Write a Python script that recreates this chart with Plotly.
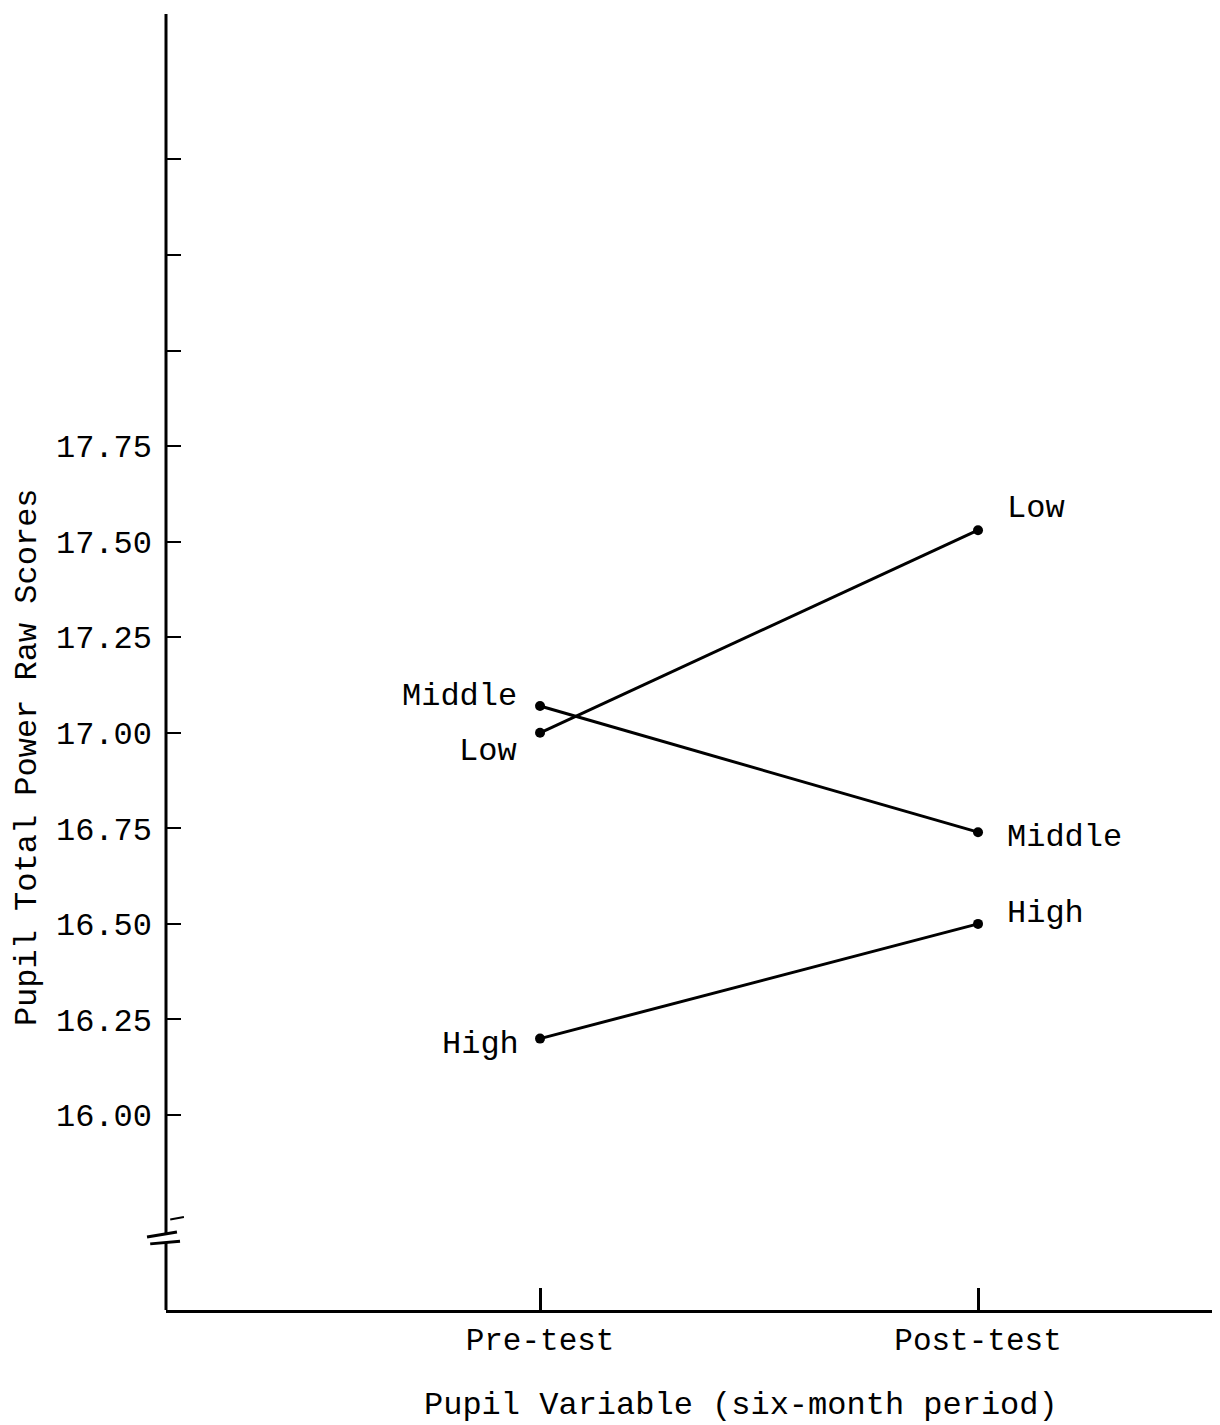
import plotly.graph_objects as go

# ---- data ----
phases = ["Pre-test", "Post-test"]
phase_pos = [1, 2]
low_scores = [17.00, 17.53]
middle_scores = [17.07, 16.74]
high_scores = [16.20, 16.50]
group_names = ["Low", "Middle", "High"]
ytick_vals = [16.00, 16.25, 16.50, 16.75, 17.00, 17.25, 17.50, 17.75, 18.00, 18.25, 18.50]
ytick_text = ["16.00", "16.25", "16.50", "16.75", "17.00", "17.25", "17.50", "17.75", "", "", ""]

FONT = "Liberation Mono, Courier New, monospace"
Y_MIN, Y_MAX = 15.49, 18.896
X_MIN, X_MAX = 0.146, 2.5525

fig = go.Figure()
for name, vals in zip(group_names, [low_scores, middle_scores, high_scores]):
    fig.add_trace(go.Scatter(
        x=phase_pos, y=vals, mode="lines+markers", name=name,
        line=dict(color="black", width=3),
        marker=dict(color="black", size=10),
        showlegend=False, cliponaxis=False))

# group labels next to points
pre_offsets = {"Low": (-21, -19), "Middle": (-21, 10), "High": (-19, -6)}
post_offsets = {"Low": (27, 22), "Middle": (27, -5), "High": (27, 10)}
for name, vals in zip(group_names, [low_scores, middle_scores, high_scores]):
    dx, dy = pre_offsets[name]
    fig.add_annotation(x=phase_pos[0], y=vals[0], text=name, showarrow=False,
                       xanchor="right", yanchor="middle", xshift=dx, yshift=dy,
                       font=dict(family=FONT, size=32, color="black"))
    dx, dy = post_offsets[name]
    fig.add_annotation(x=phase_pos[1], y=vals[1], text=name, showarrow=False,
                       xanchor="left", yanchor="middle", xshift=dx, yshift=dy,
                       font=dict(family=FONT, size=32, color="black"))

# axis titles
fig.add_annotation(xref="paper", yref="paper", x=-0.1318, y=0.4247,
                   text="Pupil Total Power Raw Scores", textangle=-90,
                   showarrow=False, xanchor="center", yanchor="middle",
                   font=dict(family=FONT, size=32, color="black"))
fig.add_annotation(xref="paper", yref="paper", x=0.5455, y=-0.0730,
                   text="Pupil Variable (six-month period)",
                   showarrow=False, xanchor="center", yanchor="middle",
                   font=dict(family=FONT, size=32, color="black"))

# y axis line with break
line_style = dict(color="black", width=3)
fig.add_shape(type="line", xref="paper", yref="y", x0=0, x1=0, y0=15.690, y1=18.88, line=line_style)
fig.add_shape(type="line", xref="paper", yref="y", x0=0, x1=0, y0=Y_MIN, y1=15.668, line=line_style)
fig.add_shape(type="line", xref="paper", yref="y", x0=-0.018, x1=0.0104, y0=15.681, y1=15.694, line=line_style)
fig.add_shape(type="line", xref="paper", yref="y", x0=-0.015, x1=0.0133, y0=15.663, y1=15.670, line=line_style)
fig.add_shape(type="line", xref="paper", yref="y", x0=0.004, x1=0.017, y0=15.727, y1=15.733,
              line=dict(color="black", width=2))

fig.update_layout(
    width=1212, height=1417,
    margin=dict(l=158, r=0, t=0, b=115),
    paper_bgcolor="white", plot_bgcolor="white",
    font=dict(family=FONT, color="black"),
)
fig.update_xaxes(
    range=[X_MIN, X_MAX], tickvals=phase_pos, ticktext=phases,
    showgrid=False, zeroline=False,
    showline=True, linecolor="black", linewidth=3,
    ticks="inside", ticklen=22, tickwidth=3, tickcolor="black",
    tickfont=dict(family=FONT, size=31, color="black"),
    automargin=False,
)
fig.update_yaxes(
    range=[Y_MIN, Y_MAX], tickvals=ytick_vals, ticktext=ytick_text,
    showgrid=False, zeroline=False, showline=False,
    ticks="inside", ticklen=15, tickwidth=2, tickcolor="black",
    tickfont=dict(family=FONT, size=32, color="black"),
    ticklabelstandoff=13,
    automargin=False,
)

fig.write_html("out.html")
